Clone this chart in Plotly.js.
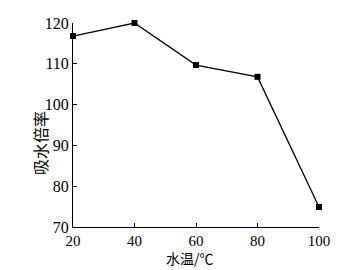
<!DOCTYPE html>
<html><head><meta charset="utf-8">
<script src="https://cdn.plot.ly/plotly-3.0.1.min.js"></script>
<style>html,body{margin:0;padding:0;background:#fff}#c{width:352px;height:270px}</style>
</head><body><div id="c"></div>
<script>
const waterTemp = [20, 40, 60, 80, 100];
const absorbRatio = [116.8, 120, 109.7, 106.8, 74.9];
const xTicks = [20, 40, 60, 80, 100];
const yTicks = [70, 80, 90, 100, 110, 120];

const serif = "Liberation Serif, Times New Roman, serif";
const cjk = "Noto Sans CJK SC, sans-serif";

Plotly.newPlot('c', [{
  x: waterTemp, y: absorbRatio, type: 'scatter', mode: 'lines+markers',
  line: {color: '#000', width: 1.3},
  marker: {symbol: 'square', size: 6, color: '#000'},
  cliponaxis: false
}], {
  width: 352, height: 270,
  margin: {l: 73, r: 33, t: 23, b: 43},
  paper_bgcolor: '#fff', plot_bgcolor: '#fff',
  showlegend: false,
  xaxis: {
    range: [20, 100], tickvals: xTicks, ticktext: xTicks.map(String),
    showgrid: false, zeroline: false, showline: true, linecolor: '#000', linewidth: 1,
    ticks: 'inside', ticklen: 4, tickcolor: '#000',
    tickfont: {family: serif, size: 15, color: '#000'}
  },
  yaxis: {
    range: [70, 120], tickvals: yTicks, ticktext: yTicks.map(String),
    showgrid: false, zeroline: false, showline: true, linecolor: '#000', linewidth: 1,
    ticks: 'inside', ticklen: 4, tickcolor: '#000',
    tickfont: {family: serif, size: 16, color: '#000'}
  },
  annotations: [
    {text: '水温/℃', xref: 'paper', yref: 'paper', x: (190-73)/246, y: -(258-227)/204,
     xanchor: 'center', yanchor: 'middle', showarrow: false,
     font: {family: cjk, size: 14, color: '#000'}},
    {text: '吸水倍率', xref: 'paper', yref: 'paper', x: -(73-40)/246, y: (227-143)/204,
     xanchor: 'center', yanchor: 'middle', showarrow: false, textangle: -90,
     font: {family: cjk, size: 16, color: '#000'}}
  ]
}, {displayModeBar: false, staticPlot: true});
</script></body></html>
